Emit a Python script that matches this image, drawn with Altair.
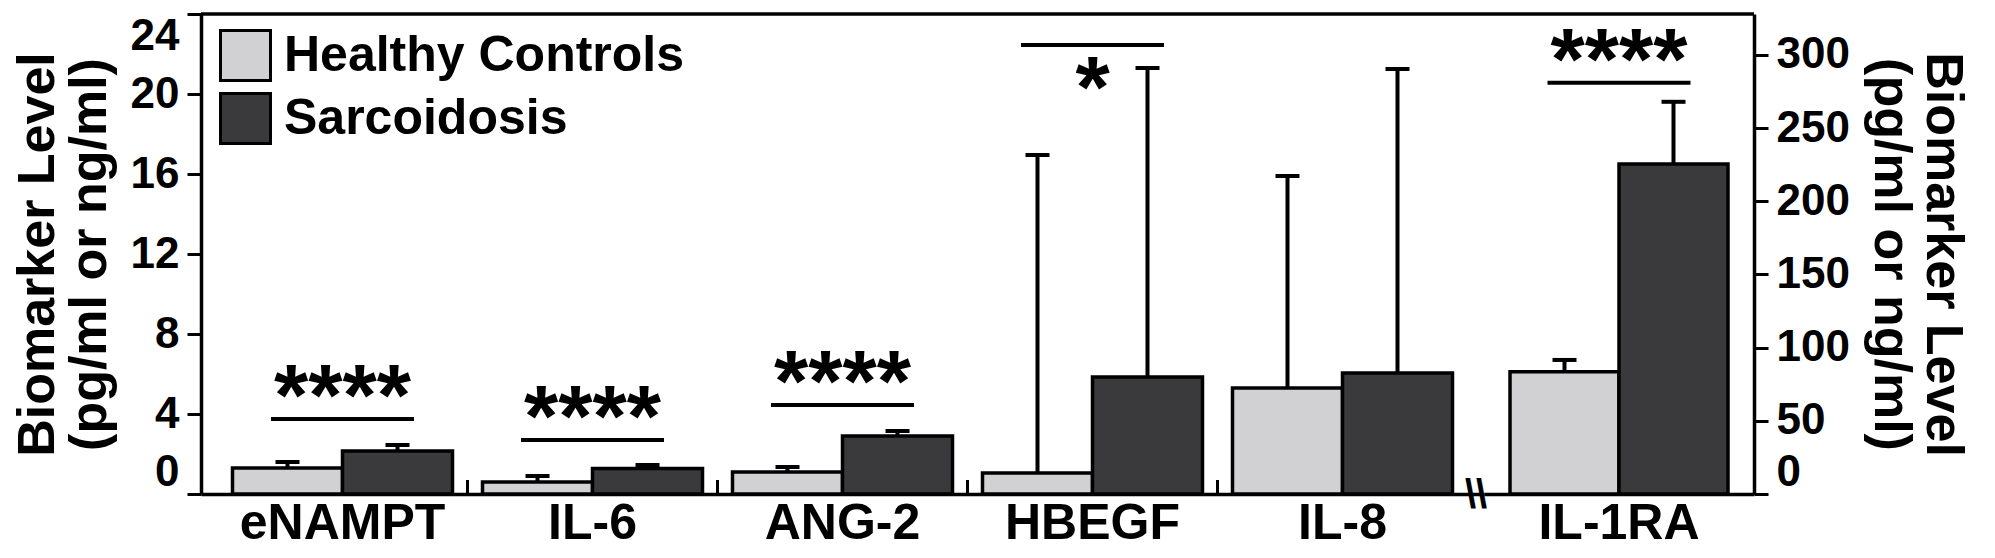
import altair as alt
import pandas as pd

# ---------------- data ----------------
categories = ["eNAMPT", "IL-6", "ANG-2", "HBEGF", "IL-8", "IL-1RA"]
groups = ["Healthy Controls", "Sarcoidosis"]
hc_mean = [1.3, 0.6, 1.1, 1.05, 5.3, 83.6]
hc_upper = [1.6, 0.9, 1.35, 16.95, 15.9, 91.6]
sarc_mean = [2.15, 1.27, 2.9, 5.85, 6.05, 225.5]
sarc_upper = [2.45, 1.45, 3.15, 21.3, 21.25, 268.0]
sig_level = [3.75, 2.7, 4.45, 22.45, None, 281.0]
sig_text = ["****", "****", "****", "*", "", "****"]
sig_side = ["above", "above", "above", "below", "", "above"]
left_ticks = [0, 4, 8, 12, 16, 20, 24]
right_ticks = [0, 50, 100, 150, 200, 250, 300]
left_max = 24
right_max = 328

FONT = "Liberation Sans, Arial, sans-serif"
COLORS = ["#d1d1d3", "#3a3a3c"]
TITLE = ["Biomarker Level", "(pg/ml or ng/ml)"]
H = 480

rows = []
for i, c in enumerate(categories):
    rows.append({"category": c, "group": groups[0], "mean": hc_mean[i], "upper": hc_upper[i]})
    rows.append({"category": c, "group": groups[1], "mean": sarc_mean[i], "upper": sarc_upper[i]})
bars_all = pd.DataFrame(rows)
sig_all = pd.DataFrame({"category": categories, "level": sig_level,
                        "label": sig_text, "side": sig_side}).dropna()


def panel(cats, ymax, yticks, orient, width, pad_outer, show_legend, add_ticks):
    bdf = bars_all[bars_all["category"].isin(cats)]
    sdf = sig_all[sig_all["category"].isin(cats)]

    def make_x(**kw):
        return alt.X("category:N", sort=cats,
                     scale=alt.Scale(domain=cats, paddingInner=0.12, paddingOuter=pad_outer),
                     axis=alt.Axis(title=None, ticks=False, labelFont=FONT, labelFontWeight="bold",
                                   labelFontSize=50, labelColor="black", labelPadding=4,
                                   labelLimit=0, labelAngle=0, domainColor="black",
                                   domainWidth=3.5),
                     **kw)

    yaxis = alt.Axis(values=yticks, orient=orient, grid=False, tickSize=14, tickWidth=3,
                     tickColor="black", domainColor="black", domainWidth=3.5,
                     labelFont=FONT, labelFontWeight="bold", labelFontSize=44,
                     labelColor="black", labelPadding=8, labelFlush=True, labelOverlap=False,
                     title=TITLE, titleFont=FONT, titleFontWeight="bold", titleFontSize=52,
                     titleColor="black", titleLineHeight=52,
                     titlePadding=14)
    yscale = alt.Scale(domain=[0, ymax], nice=False, zero=True)

    def make_y(field):
        return alt.Y(field, scale=yscale, axis=yaxis)

    xo = alt.XOffset("group:N", sort=groups,
                     scale=alt.Scale(domain=groups, paddingInner=0, paddingOuter=0))
    color = alt.Color("group:N", sort=groups, scale=alt.Scale(domain=groups, range=COLORS),
                      legend=alt.Legend(orient="none", legendX=18, legendY=15, title=None,
                                        symbolType="square", symbolSize=2500,
                                        symbolStrokeColor="black", symbolStrokeWidth=3,
                                        labelFont=FONT, labelFontWeight="bold", labelFontSize=50,
                                        labelColor="black", labelOffset=12, rowPadding=0,
                                        labelLimit=0, padding=0) if show_legend else None)

    bars = alt.Chart(bdf).mark_bar(stroke="black", strokeWidth=3.5, opacity=1).encode(
        x=make_x(), xOffset=xo, y=make_y("mean:Q"), color=color)
    err = alt.Chart(bdf).mark_rule(color="black", strokeWidth=4, opacity=1).encode(
        x=make_x(), xOffset=xo, y=make_y("mean:Q"), y2="upper:Q")
    caps = alt.Chart(bdf).mark_tick(color="black", thickness=4, size=24, opacity=1).encode(
        x=make_x(), xOffset=xo, y=make_y("upper:Q"))
    siglines = alt.Chart(sdf).mark_tick(color="black", thickness=4, size=143, opacity=1).encode(
        x=make_x(), y=make_y("level:Q"))
    stars_up = alt.Chart(sdf).transform_filter(alt.datum.side == "above").mark_text(
        font=FONT, fontWeight="bold", fontSize=88, color="black", baseline="alphabetic",
        dy=6).encode(x=make_x(), y=make_y("level:Q"), text="label:N")
    stars_dn = alt.Chart(sdf).transform_filter(alt.datum.side == "below").mark_text(
        font=FONT, fontWeight="bold", fontSize=88, color="black", baseline="alphabetic",
        dy=72).encode(x=make_x(), y=make_y("level:Q"), text="label:N")
    top = alt.Chart(pd.DataFrame({"v": [ymax]})).mark_rule(color="black", strokeWidth=3.5).encode(
        y=make_y("v:Q"), x=alt.value(0), x2=alt.value(width))

    layers = [bars, err, caps, siglines, stars_up, stars_dn, top]
    if add_ticks:
        tdf = pd.DataFrame({"category": cats[1:]})
        ticks = alt.Chart(tdf).mark_rule(color="black", strokeWidth=3, xOffset=-15).encode(
            x=make_x(bandPosition=0), y=alt.value(H), y2=alt.value(H - 14))
        layers.append(ticks)
    else:
        brk = alt.Chart(pd.DataFrame({"t": ["\\\\"]})).mark_text(
            font=FONT, fontWeight="bold", fontSize=40, color="black", baseline="middle",
            align="center", dx=-8).encode(x=alt.value(0), y=alt.value(H + 2), text="t:N")
        layers.append(brk)
    return alt.layer(*layers).properties(width=width, height=H)


left = panel(categories[:5], left_max, left_ticks, "left", 1283, 0.126, True, True)
right = panel(categories[5:], right_max, right_ticks, "right", 270, 0.105, False, False)

chart = alt.hconcat(left, right, spacing=0, bounds="flush").resolve_scale(
    x="independent", y="independent", color="independent", xOffset="independent"
).resolve_legend(color="independent").properties(
    padding={"left": 3, "top": 4, "right": 6, "bottom": 0}
).configure_view(stroke=None)

chart.save("out.html", embed_options={"renderer": "svg", "actions": False})
